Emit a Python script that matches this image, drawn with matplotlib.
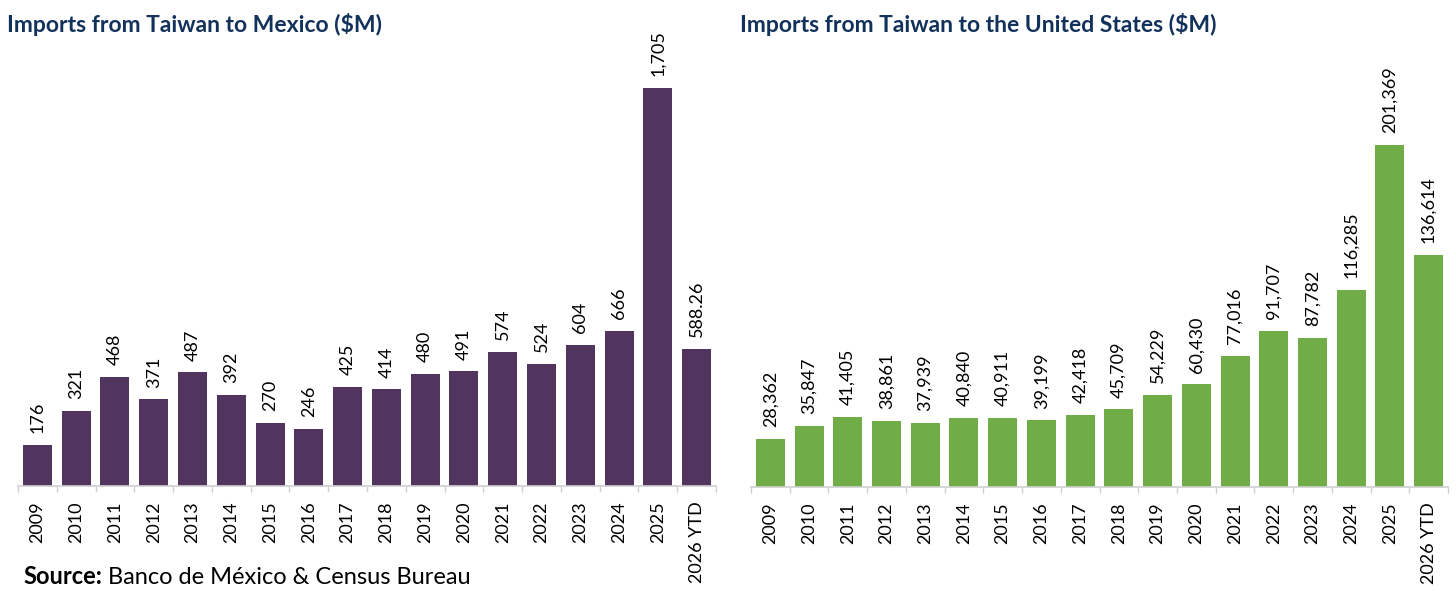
import matplotlib
matplotlib.use("Agg")
import matplotlib.pyplot as plt
import numpy as np

plt.rcParams['font.family'] = ['Lato', 'DejaVu Sans']

years = ["2009", "2010", "2011", "2012", "2013", "2014", "2015", "2016", "2017",
         "2018", "2019", "2020", "2021", "2022", "2023", "2024", "2025", "2026 YTD"]
mexico = [176, 321, 468, 371, 487, 392, 270, 246, 425, 414, 480, 491, 574, 524,
          604, 666, 1705, 588.26]
usa = [28362, 35847, 41405, 38861, 37939, 40840, 40911, 39199, 42418, 45709,
       54229, 60430, 77016, 91707, 87782, 116285, 201369, 136614]

purple = "#52355F"
green = "#70AD47"
navy = "#12325C"
W, H = 1456, 591


def fmt(v):
    if isinstance(v, int):
        return f"{v:,}"
    return str(v)


def draw(ax, vals, color, ymax):
    x = np.arange(len(years))
    ax.bar(x, vals, width=0.75, color=color)
    for xi, v in zip(x, vals):
        ax.annotate(fmt(v), (xi, v), xytext=(0, 8.5), textcoords="offset points",
                    rotation=90, ha="center", va="bottom", fontsize=13, color="black")
    ax.set_xlim(-0.5, len(years) - 0.5)
    ax.set_ylim(0, ymax)
    ax.set_xticks(x)
    ax.set_xticklabels(years, rotation=90, fontsize=13)
    ax.set_xticks(np.arange(len(years) + 1) - 0.5, minor=True)
    ax.tick_params(axis="x", which="major", length=0, pad=11)
    ax.tick_params(axis="x", which="minor", length=4, color="#D0D0D0", width=1)
    ax.set_yticks([])
    for s in ["top", "right", "left"]:
        ax.spines[s].set_visible(False)
    ax.spines["bottom"].set_color("#D0D0D0")
    ax.spines["bottom"].set_linewidth(1.2)


fig = plt.figure(figsize=(W / 100, H / 100), dpi=100)

ax1 = fig.add_axes([18 / W, (H - 486) / H, 698 / W, 446 / H])
draw(ax1, mexico, purple, 1911)

ax2 = fig.add_axes([751 / W, (H - 487) / H, 697 / W, 447 / H])
draw(ax2, usa, green, 263190)

fig.text(7 / W, 1 - 25 / H, "Imports from Taiwan to Mexico ($M)", fontsize=16.5,
         fontweight="bold", color=navy, va="center", ha="left")
fig.text(740 / W, 1 - 25 / H, "Imports from Taiwan to the United States ($M)", fontsize=16.5,
         fontweight="bold", color=navy, va="center", ha="left")

t = fig.text(23 / W, 1 - 577 / H, "Source:", fontsize=17, fontweight="bold",
             color="black", va="center", ha="left")
fig.canvas.draw()
bb = t.get_window_extent()
fig.text((bb.x1 + 6) / W, 1 - 577 / H, "Banco de México & Census Bureau", fontsize=17,
         color="black", va="center", ha="left")

fig.savefig("out.png", dpi=100)
